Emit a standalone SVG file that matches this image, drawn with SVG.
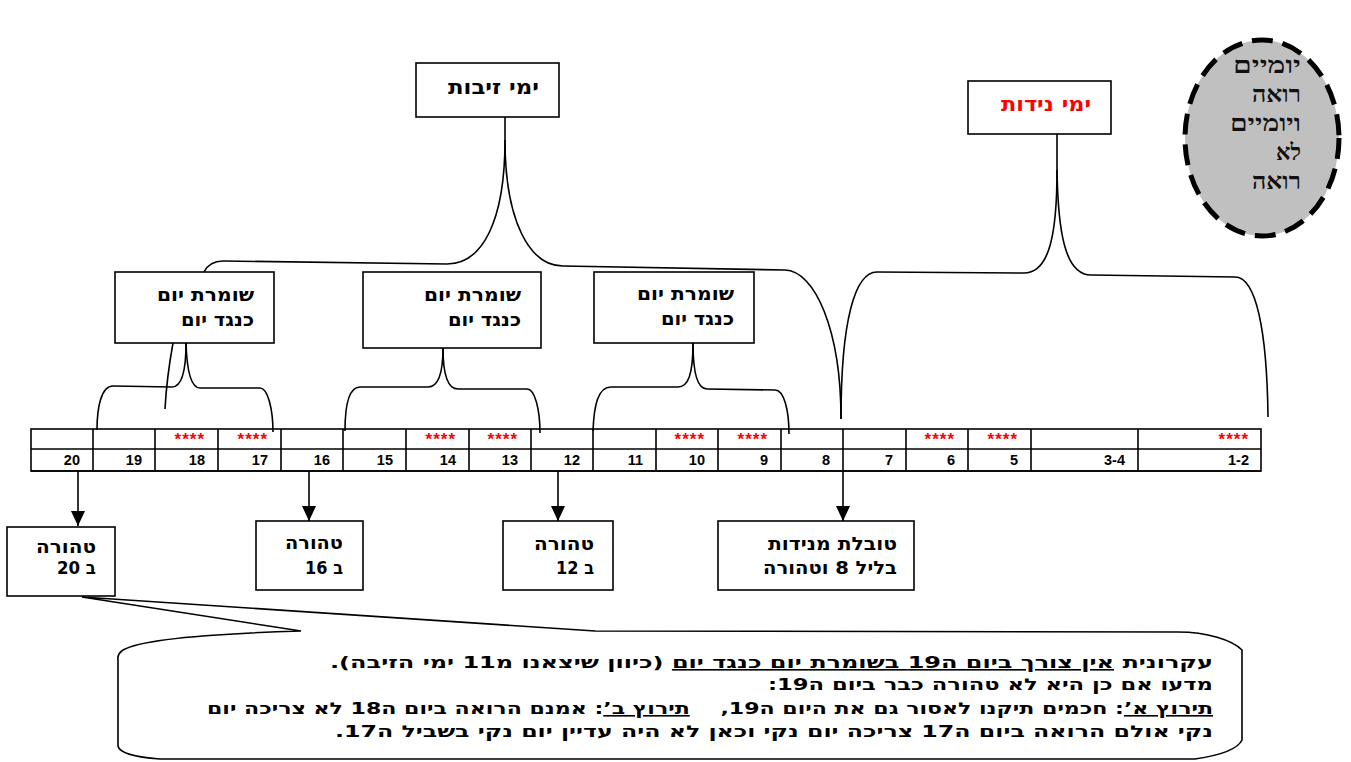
<svg xmlns="http://www.w3.org/2000/svg" width="1351" height="762" viewBox="0 0 1351 762">
<style>
.box{fill:#fff;stroke:#000;stroke-width:1.6}
.heb{font-family:"DejaVu Sans","Liberation Sans",sans-serif;font-weight:bold;direction:rtl;text-anchor:start;fill:#000}
.ser{font-family:"Liberation Serif","DejaVu Serif",serif;font-weight:bold;direction:rtl;text-anchor:start;fill:#111;font-size:23px}
.conn{fill:none;stroke:#000;stroke-width:1.6}
.grid{fill:none;stroke:#000;stroke-width:1.6}
.num{font-family:"Liberation Sans","DejaVu Sans",sans-serif;font-weight:bold;font-size:14.5px;text-anchor:end;fill:#000}
.star{font-family:"Liberation Sans","DejaVu Sans",sans-serif;font-weight:bold;font-size:17px;letter-spacing:1px;text-anchor:end;fill:#ff0000}
.ul{text-decoration:underline}
</style>
<defs>
<marker id="arr" markerWidth="15" markerHeight="14" refX="15" refY="7" orient="auto" markerUnits="userSpaceOnUse" viewBox="0 0 15 14">
<path d="M0,0 L15,7 L0,14 Z" fill="#000"/>
</marker>
</defs>
<rect width="1351" height="762" fill="#fff"/>

<g id="connectors">
<path class="conn" d="M505,117 L505,140 C505,222 482,264 447,264 L223,261 C213,261 207,266 204,272"/>
<path class="conn" d="M505,140 C505,222 530,266 563,266 L785,270 C815,271 841,330 841,419"/>
<path class="conn" d="M1057,134 L1057,170 C1057,232 1050,273 1024,273 L877,272 C855,272 841,320 841,419"/>
<path class="conn" d="M1057,170 C1058,232 1065,275 1091,275 L1235,277 C1256,277 1267,330 1268,417"/>
<path class="conn" d="M186,343 C186,375 180,387 172,387 L113,386 C101,386 97,408 97,430"/>
<path class="conn" d="M186,343 C187,375 192,388 200,388 L260,388 C268,388 273,410 273,432"/>
<path class="conn" d="M173,343 C169,365 166,390 165,409"/>
<path class="conn" d="M443,348 C443,375 438,387 428,387 L360,387 C350,387 345,402 345,431"/>
<path class="conn" d="M443,348 C443,375 448,389 458,389 L527,389 C535,389 540,410 540,433"/>
<path class="conn" d="M693,343 C693,375 688,387 678,387 L611,387 C598,387 594,405 593,431"/>
<path class="conn" d="M693,343 C693,375 698,389 707,389 L775,390 C784,390 789,410 789,434"/>
<line class="conn" x1="78" y1="471" x2="78" y2="526" marker-end="url(#arr)"/>
<line class="conn" x1="309" y1="471" x2="309" y2="521" marker-end="url(#arr)"/>
<line class="conn" x1="558" y1="471" x2="558" y2="521" marker-end="url(#arr)"/>
<line class="conn" x1="843" y1="471" x2="843" y2="521" marker-end="url(#arr)"/>
</g>

<g id="table">
<rect class="grid" x="31" y="429" width="1230" height="42"/>
<line class="grid" x1="31" y1="449" x2="1261" y2="449"/>
<line class="grid" x1="31" y1="471" x2="1261" y2="471" stroke-width="2.4"/>
<path class="grid" d="M93,429V471M155,429V471M218,429V471M281,429V471M343,429V471M406,429V471M469,429V471M531,429V471M593,429V471M656,429V471M718,429V471M781,429V471M843,429V471M906,429V471M968,429V471M1031,429V471M1138,429V471"/>
<text class="num" x="80" y="465">20</text>
<text class="num" x="142" y="465">19</text>
<text class="num" x="205" y="465">18</text>
<text class="num" x="268" y="465">17</text>
<text class="num" x="330" y="465">16</text>
<text class="num" x="393" y="465">15</text>
<text class="num" x="456" y="465">14</text>
<text class="num" x="518" y="465">13</text>
<text class="num" x="580" y="465">12</text>
<text class="num" x="643" y="465">11</text>
<text class="num" x="705" y="465">10</text>
<text class="num" x="768" y="465">9</text>
<text class="num" x="830" y="465">8</text>
<text class="num" x="893" y="465">7</text>
<text class="num" x="955" y="465">6</text>
<text class="num" x="1018" y="465">5</text>
<text class="num" x="1125" y="465">3-4</text>
<text class="num" x="1249" y="465">1-2</text>
<text class="star" x="205" y="445">****</text>
<text class="star" x="268" y="445">****</text>
<text class="star" x="456" y="445">****</text>
<text class="star" x="518" y="445">****</text>
<text class="star" x="705" y="445">****</text>
<text class="star" x="768" y="445">****</text>
<text class="star" x="955" y="445">****</text>
<text class="star" x="1018" y="445">****</text>
<text class="star" x="1249" y="445">****</text>
</g>

<g id="zivot">
<rect class="box" x="416" y="63" width="143" height="54"/>
<text class="heb" x="539" y="94" font-size="20" textLength="91" lengthAdjust="spacingAndGlyphs">ימי זיבות</text>
</g>

<g id="nidot">
<rect class="box" x="968" y="81" width="143" height="53"/>
<text class="heb" x="1091" y="111" font-size="20" style="fill:#ff0000" textLength="90" lengthAdjust="spacingAndGlyphs">ימי נידות</text>
</g>

<g id="circle">
<ellipse cx="1262" cy="138" rx="77" ry="98" fill="#c0c0c0" stroke="#000" stroke-width="5" stroke-dasharray="21 10"/>
<text class="ser" x="1301" y="73" textLength="68" lengthAdjust="spacingAndGlyphs">יומיים</text>
<text class="ser" x="1301" y="102" textLength="49" lengthAdjust="spacingAndGlyphs">רואה</text>
<text class="ser" x="1301" y="131" textLength="71" lengthAdjust="spacingAndGlyphs">ויומיים</text>
<text class="ser" x="1301" y="160" textLength="25" lengthAdjust="spacingAndGlyphs">לא</text>
<text class="ser" x="1301" y="189" textLength="49" lengthAdjust="spacingAndGlyphs">רואה</text>
</g>

<g id="shomeret1">
<rect class="box" x="115" y="272" width="159" height="71"/>
<text class="heb" x="254" y="301" font-size="19" textLength="97" lengthAdjust="spacingAndGlyphs">שומרת יום</text>
<text class="heb" x="254" y="326" font-size="19" textLength="73" lengthAdjust="spacingAndGlyphs">כנגד יום</text>
</g>

<g id="shomeret2">
<rect class="box" x="363" y="272" width="178" height="76"/>
<text class="heb" x="521" y="301" font-size="19" textLength="97" lengthAdjust="spacingAndGlyphs">שומרת יום</text>
<text class="heb" x="521" y="326" font-size="19" textLength="73" lengthAdjust="spacingAndGlyphs">כנגד יום</text>
</g>

<g id="shomeret3">
<rect class="box" x="594" y="272" width="160" height="71"/>
<text class="heb" x="734" y="300" font-size="19" textLength="97" lengthAdjust="spacingAndGlyphs">שומרת יום</text>
<text class="heb" x="734" y="325" font-size="19" textLength="73" lengthAdjust="spacingAndGlyphs">כנגד יום</text>
</g>

<g id="tahora20">
<rect class="box" x="7" y="527" width="108" height="69"/>
<text class="heb" x="96" y="553" font-size="18" textLength="60" lengthAdjust="spacingAndGlyphs">טהורה</text>
<text class="heb" x="96" y="574" font-size="18" textLength="39" lengthAdjust="spacingAndGlyphs">ב 20</text>
</g>

<g id="tahora16">
<rect class="box" x="256" y="521" width="107" height="69"/>
<text class="heb" x="343" y="549" font-size="18" textLength="58" lengthAdjust="spacingAndGlyphs">טהורה</text>
<text class="heb" x="343" y="574" font-size="18" textLength="38" lengthAdjust="spacingAndGlyphs">ב 16</text>
</g>

<g id="tahora12">
<rect class="box" x="503" y="521" width="110" height="69"/>
<text class="heb" x="594" y="550" font-size="18" textLength="60" lengthAdjust="spacingAndGlyphs">טהורה</text>
<text class="heb" x="594" y="574" font-size="18" textLength="38" lengthAdjust="spacingAndGlyphs">ב 12</text>
</g>

<g id="tovelet">
<rect class="box" x="718" y="521" width="196" height="69"/>
<text class="heb" x="897" y="550" font-size="18" textLength="129" lengthAdjust="spacingAndGlyphs">טובלת מנידות</text>
<text class="heb" x="897" y="574" font-size="18" textLength="134" lengthAdjust="spacingAndGlyphs">בליל 8 וטהורה</text>
</g>

<g id="callout">
<path class="box" d="M82,597 L301,631 C200,634 140,640 123,650 Q117,654 118,660 L118,746 Q120,756 160,759 L1195,759 Q1236,753 1242,740 L1242,650 C1232,640 1207,632 1178,632 L595,631 Z"/>
<text class="heb" x="1213" y="668" font-size="16" textLength="883" lengthAdjust="spacingAndGlyphs">עקרונית <tspan class="ul">אין צורך ביום ה19 בשומרת יום כנגד יום</tspan> (כיוון שיצאנו מ11 ימי הזיבה).</text>
<text class="heb" x="1213" y="690" font-size="16" textLength="445" lengthAdjust="spacingAndGlyphs">מדעו אם כן היא לא טהורה כבר ביום ה19:</text>
<text class="heb" x="1213" y="714" font-size="16" xml:space="preserve" textLength="1006" lengthAdjust="spacingAndGlyphs"><tspan class="ul">תירוץ א’</tspan>: חכמים תיקנו לאסור גם את היום ה19,    <tspan class="ul">תירוץ ב’</tspan>: אמנם הרואה ביום ה18 לא צריכה יום</text>
<text class="heb" x="1213" y="737" font-size="16" textLength="878" lengthAdjust="spacingAndGlyphs">נקי אולם הרואה ביום ה17 צריכה יום נקי וכאן לא היה עדיין יום נקי בשביל ה17.</text>
</g>
</svg>
